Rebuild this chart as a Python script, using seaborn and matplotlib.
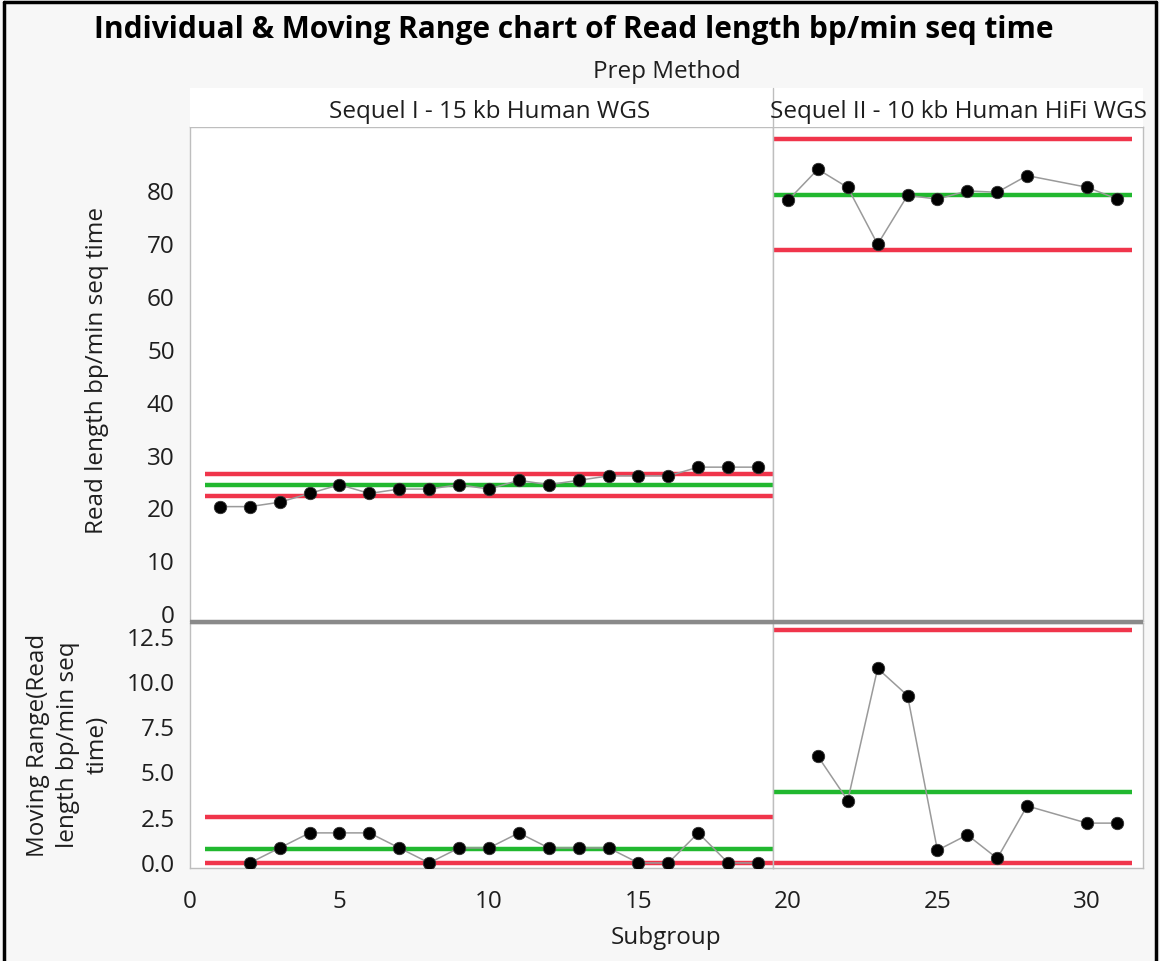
import numpy as np
import pandas as pd
import matplotlib
matplotlib.use("Agg")
import matplotlib.pyplot as plt
from matplotlib.lines import Line2D
from matplotlib.patches import Rectangle
import seaborn as sns

# ---- data -------------------------------------------------------------
methods = ["Sequel I - 15 kb Human WGS", "Sequel II - 10 kb Human HiFi WGS"]

subgroups_seq1 = list(range(1, 20))
values_seq1 = [20.35, 20.35, 21.18, 22.84, 24.50, 22.84, 23.67, 23.67, 24.50,
               23.67, 25.33, 24.50, 25.33, 26.16, 26.16, 26.16, 27.82, 27.82,
               27.82]

subgroups_seq2 = [20, 21, 22, 23, 24, 25, 26, 27, 28, 30, 31]
values_seq2 = [78.3, 84.2, 80.75, 70.0, 79.25, 78.55, 80.1, 79.85, 83.0,
               80.8, 78.6]

x_ticks_left = [0, 5, 10, 15]
x_ticks_right = [20, 25, 30]
ind_ticks = [0, 10, 20, 30, 40, 50, 60, 70, 80]
mr_ticks = [0.0, 2.5, 5.0, 7.5, 10.0, 12.5]

title = "Individual & Moving Range chart of Read length bp/min seq time"
ind_label = "Read length bp/min seq time"
mr_label = "Moving Range(Read\nlength bp/min seq\ntime)"

# I-MR constants for moving ranges of span 2
E2, D4 = 2.66, 3.267

frames = []
for m, sg, v in [(methods[0], subgroups_seq1, values_seq1),
                 (methods[1], subgroups_seq2, values_seq2)]:
    d = pd.DataFrame({"Subgroup": sg, "Value": v, "Prep Method": m})
    d["MR"] = d["Value"].diff().abs()
    frames.append(d)
df = pd.concat(frames, ignore_index=True)

# ---- styling ----------------------------------------------------------
sns.set_theme(style="white")
plt.rcParams["font.family"] = ["Open Sans", "DejaVu Sans"]
W, H = 1160, 961
BG = "#F7F7F7"
RED = "#F0354B"
GREEN = "#21B82F"
FRAME = "#BEBEBE"
TXT = "#1E1E1E"

fig = plt.figure(figsize=(W / 100, H / 100), dpi=100, facecolor=BG)


def fx(px):
    return px / W


def fy(py):
    return 1 - py / H


x_left, x_mid, x_right = 190, 773, 1143
y_top, y_sep, y_mr_top, y_bot = 127, 621, 623, 868

# x scale shared across both columns
left_lim = (0.0, 19.5)
ppu = (x_mid - x_left) / (left_lim[1] - left_lim[0])
right_lim = (19.5, 19.5 + (x_right - x_mid) / ppu)

axes = {}
for row, (yt, yb) in enumerate([(y_top, y_sep), (y_mr_top, y_bot)]):
    for col, (xl, xr) in enumerate([(x_left, x_mid), (x_mid, x_right)]):
        ax = fig.add_axes([fx(xl), fy(yb), fx(xr) - fx(xl), fy(yt) - fy(yb)])
        ax.set_facecolor("white")
        for s in ax.spines.values():
            s.set_color(FRAME)
            s.set_linewidth(1)
        axes[(row, col)] = ax

for col, m in enumerate(methods):
    d = df[df["Prep Method"] == m]
    xlim = left_lim if col == 0 else right_lim
    lo, hi = d["Subgroup"].min() - 0.5, d["Subgroup"].max() + 0.5

    mean = d["Value"].mean()
    mr_bar = d["MR"].mean()

    # Individuals chart
    ax = axes[(0, col)]
    ax.hlines([mean + E2 * mr_bar, mean - E2 * mr_bar], lo, hi,
              color=RED, lw=3.2, zorder=2)
    ax.hlines(mean, lo, hi, color=GREEN, lw=3.2, zorder=2)
    sns.lineplot(data=d, x="Subgroup", y="Value", ax=ax, color="#9A9A9A",
                 lw=1.1, zorder=3)
    sns.scatterplot(data=d, x="Subgroup", y="Value", ax=ax, color="black",
                    s=80, edgecolor="#333333", linewidth=0.6, zorder=4)
    ax.set_xlim(*xlim)
    ax.set_ylim(-1.3, 92.2)

    # Moving range chart
    dm = d.dropna(subset=["MR"])
    ax2 = axes[(1, col)]
    ax2.hlines([D4 * mr_bar, 0], lo, hi, color=RED, lw=3.2, zorder=2)
    ax2.hlines(mr_bar, lo, hi, color=GREEN, lw=3.2, zorder=2)
    sns.lineplot(data=dm, x="Subgroup", y="MR", ax=ax2, color="#9A9A9A",
                 lw=1.1, zorder=3)
    sns.scatterplot(data=dm, x="Subgroup", y="MR", ax=ax2, color="black",
                    s=80, edgecolor="#333333", linewidth=0.6, zorder=4)
    ax2.set_xlim(*xlim)
    ax2.set_ylim(-0.28, 13.26)

TICK_FS = 17.5
for (row, col), ax in axes.items():
    ax.set_xlabel("")
    ax.set_ylabel("")
    ax.tick_params(axis="both", which="both", direction="out", length=7,
                   width=1, color="#A0A0A0", labelsize=TICK_FS,
                   labelcolor=TXT, pad=4)
    ax.tick_params(axis="x", pad=9)
    if col == 0:
        ax.set_yticks(ind_ticks if row == 0 else mr_ticks)
        if row == 1:
            ax.set_yticklabels([f"{t:.1f}" for t in mr_ticks])
    else:
        ax.set_yticks([])
    if row == 1:
        ax.set_xticks(x_ticks_left if col == 0 else x_ticks_right)
    else:
        ax.set_xticks([])

# thick separator between the two chart rows
fig.add_artist(Line2D([fx(x_left), fx(x_right)], [fy(622), fy(622)],
                      color="#8A8A8A", lw=3.2, solid_capstyle="butt"))

# header band with the prep method names
fig.add_artist(Rectangle((fx(x_left), fy(y_top)), fx(x_right) - fx(x_left),
                         fy(88) - fy(y_top), facecolor="white",
                         edgecolor="none"))
fig.add_artist(Line2D([fx(x_mid), fx(x_mid)], [fy(88), fy(y_top)],
                      color=FRAME, lw=1))
fig.text(fx((x_left + x_mid) / 2 + 8), fy(112), methods[0], ha="center",
         va="center", fontsize=TICK_FS, color=TXT)
fig.text(fx((x_mid + x_right) / 2), fy(112), methods[1], ha="center",
         va="center", fontsize=TICK_FS, color=TXT)
fig.text(fx((x_left + x_right) / 2), fy(72), "Prep Method", ha="center",
         va="center", fontsize=TICK_FS, color=TXT)

# titles and axis labels
fig.text(fx(574), fy(30), title, ha="center", va="center", fontsize=21.5,
         fontweight="bold", color="black")
fig.text(fx(97), fy(370), ind_label, ha="center", va="center", rotation=90,
         fontsize=TICK_FS, color=TXT)
fig.text(fx(68), fy(745), mr_label, ha="center", va="center", rotation=90,
         fontsize=TICK_FS, color=TXT, multialignment="center",
         linespacing=1.32)
fig.text(fx((x_left + x_right) / 2), fy(938), "Subgroup", ha="center",
         va="center", fontsize=TICK_FS, color=TXT)

# outer frame
for xs, ys in [([fx(4), fx(4)], [0, fy(2)]),
               ([fx(4), fx(1156)], [fy(2), fy(2)]),
               ([fx(1156), fx(1156)], [0, fy(2)])]:
    fig.add_artist(Line2D(xs, ys, color="black", lw=2.5))

fig.savefig("out.png", dpi=100, facecolor=BG)
